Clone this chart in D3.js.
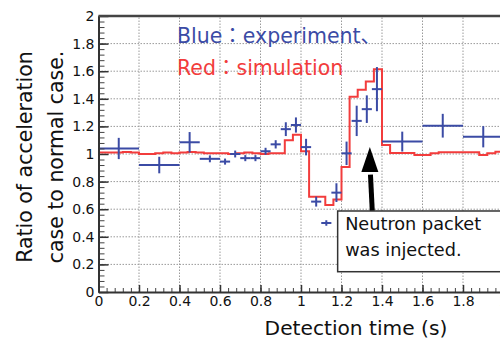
<!DOCTYPE html>
<html lang="en">
<head>
<meta charset="UTF-8">
<title>Ratio of acceleration case to normal case</title>
<script src="https://d3js.org/d3.v7.min.js"></script>
<style>
  body { margin: 0; background: #fff; }
  svg { display: block; font-family: "DejaVu Sans", "Noto Sans CJK JP", sans-serif; }
</style>
</head>
<body>
<div id="chart"></div>
<script>
// experiment (blue crosses): centre time, ratio, half bin width, error
const expTime = [0.1, 0.3, 0.45, 0.55, 0.625, 0.675, 0.725, 0.775, 0.825, 0.875, 0.925, 0.975,
                 1.025, 1.075, 1.125, 1.175, 1.225, 1.275, 1.325, 1.375, 1.5, 1.7, 1.9];
const expRatio = [1.04, 0.92, 1.085, 0.965, 0.945, 1.0, 0.97, 0.97, 1.02, 1.07, 1.18, 1.21,
                  1.05, 0.655, 0.50, 0.72, 1.005, 1.24, 1.325, 1.47, 1.09, 1.205, 1.125];
const expHalfWidth = [0.1, 0.1, 0.05, 0.05, 0.025, 0.025, 0.025, 0.025, 0.025, 0.025, 0.025, 0.025,
                      0.025, 0.025, 0.025, 0.025, 0.025, 0.025, 0.025, 0.025, 0.1, 0.1, 0.1];
const expErr = [0.077, 0.06, 0.074, 0.025, 0.022, 0.025, 0.022, 0.022, 0.025, 0.03, 0.05, 0.055,
                0.06, 0.036, 0.02, 0.068, 0.085, 0.11, 0.10, 0.16, 0.072, 0.086, 0.077];

// simulation (red histogram), bins of 0.04 s from 0 to 2
const simBinWidth = 0.04;
const simRatio = [1.01, 1.01, 1.01, 1.015, 1.01, 1.0, 1.0, 1.005, 1.01, 1.005,
                  1.01, 1.015, 1.01, 1.005, 1.005, 1.005, 1.0, 1.005, 1.01, 1.005,
                  1.0, 1.005, 1.005, 1.10, 1.14, 1.02, 0.69, 0.69, 0.63, 0.67,
                  0.905, 1.415, 1.465, 1.525, 1.615, 1.065, 1.008, 1.008, 1.008, 0.993,
                  0.993, 1.005, 1.012, 1.012, 1.012, 1.012, 1.012, 0.993, 1.005, 1.017];

const xTicks = [0, 0.2, 0.4, 0.6, 0.8, 1, 1.2, 1.4, 1.6, 1.8, 2];
const yTicks = [0, 0.2, 0.4, 0.6, 0.8, 1, 1.2, 1.4, 1.6, 1.8, 2];

const width = 500, height = 341;
const margin = { top: 16, left: 98.5, bottom: 49 };
const plotW = 405;

const blue = "#3b4ba5";
const red = "#f23c3c";

const svg = d3.select("#chart").append("svg")
    .attr("width", width)
    .attr("height", height);

const x = d3.scaleLinear().domain([0, 2]).range([margin.left, margin.left + plotW]);
const y = d3.scaleLinear().domain([0, 2]).range([height - margin.bottom, margin.top]);

// dotted grid
svg.append("g").selectAll("line")
    .data(xTicks.slice(1))
    .join("line")
    .attr("x1", d => x(d)).attr("x2", d => x(d))
    .attr("y1", y(0)).attr("y2", y(2))
    .attr("stroke", "#9a9a9a").attr("stroke-width", 1).attr("stroke-dasharray", "1.5,1.5");
svg.append("g").selectAll("line")
    .data(yTicks.slice(1))
    .join("line")
    .attr("x1", x(0)).attr("x2", x(2))
    .attr("y1", d => y(d)).attr("y2", d => y(d))
    .attr("stroke", "#9a9a9a").attr("stroke-width", 1).attr("stroke-dasharray", "1.5,1.5");

// simulation step line
const simPoints = simRatio.map((v, i) => [i * simBinWidth, v]);
simPoints.push([simRatio.length * simBinWidth, simRatio[simRatio.length - 1]]);
svg.append("path")
    .datum(simPoints)
    .attr("fill", "none")
    .attr("stroke", red)
    .attr("stroke-width", 2)
    .attr("d", d3.line().x(d => x(d[0])).y(d => y(d[1])).curve(d3.curveStepAfter));

// experiment crosses
const exp = expTime.map((t, i) => ({ t, v: expRatio[i], w: expHalfWidth[i], e: expErr[i] }));
const pts = svg.append("g").attr("stroke", blue).attr("stroke-width", 2);
pts.selectAll(".h").data(exp).join("line").attr("class", "h")
    .attr("x1", d => x(d.t - d.w)).attr("x2", d => x(d.t + d.w))
    .attr("y1", d => y(d.v)).attr("y2", d => y(d.v));
pts.selectAll(".v").data(exp).join("line").attr("class", "v")
    .attr("x1", d => x(d.t)).attr("x2", d => x(d.t))
    .attr("y1", d => y(d.v - d.e)).attr("y2", d => y(d.v + d.e));

// axes with inward ticks
const minor = d3.range(0, 2.0001, 0.04);
svg.append("g")
    .attr("transform", `translate(${x(0)},0)`)
    .call(d3.axisLeft(y).tickValues(minor).tickSizeInner(-6).tickSizeOuter(0).tickFormat(""))
    .call(g => g.select(".domain").remove())
    .call(g => g.selectAll("line").attr("stroke", "#444"));
svg.append("g")
    .attr("transform", `translate(0,${y(0)})`)
    .call(d3.axisBottom(x).tickValues(minor).tickSizeInner(-4).tickSizeOuter(0).tickFormat(""))
    .call(g => g.select(".domain").remove())
    .call(g => g.selectAll("line").attr("stroke", "#444"));

const yAxis = svg.append("g")
    .attr("transform", `translate(${x(0)},0)`)
    .call(d3.axisLeft(y).tickValues(yTicks).tickSizeInner(-10).tickSizeOuter(0).tickPadding(4)
        .tickFormat(d3.format("~g")));
const xAxis = svg.append("g")
    .attr("transform", `translate(0,${y(0)})`)
    .call(d3.axisBottom(x).tickValues(xTicks).tickSizeInner(-7).tickSizeOuter(0).tickPadding(4)
        .tickFormat(d3.format("~g")));
[yAxis, xAxis].forEach(a => {
    a.select(".domain").attr("stroke", "#333").attr("stroke-width", 2);
    a.selectAll(".tick line").attr("stroke", "#333").attr("stroke-width", 1.5);
    a.selectAll("text").attr("font-size", 14).attr("fill", "#111")
        .attr("font-family", "'DejaVu Sans', sans-serif");
});

// top frame
svg.append("line")
    .attr("x1", x(0)).attr("x2", x(2))
    .attr("y1", y(2)).attr("y2", y(2))
    .attr("stroke", "#444").attr("stroke-width", 2.5);

// axis titles
svg.append("text")
    .attr("x", 356).attr("y", 335)
    .attr("text-anchor", "middle")
    .attr("font-size", 20.2).attr("fill", "#111")
    .text("Detection time (s)");
const yTitle = svg.append("text")
    .attr("transform", "translate(32,157) rotate(-90)")
    .attr("text-anchor", "middle")
    .attr("font-size", 20.5).attr("fill", "#111");
yTitle.append("tspan").attr("x", 0).attr("y", 0).text("Ratio of acceleration");
yTitle.append("tspan").attr("x", 0).attr("y", 31).text("case to normal case.");

// legend text
svg.append("text").attr("x", 177).attr("y", 43)
    .attr("font-size", 20.5).attr("fill", blue)
    .text("Blue：experiment、");
svg.append("text").attr("x", 177).attr("y", 75)
    .attr("font-size", 20.5).attr("fill", red)
    .text("Red：simulation");

// annotation: arrow and box
const arrowTip = [1.34, 1.05];
const arrowBase = [1.352, 0.587];
const headY = 0.87;
svg.append("line")
    .attr("x1", x(arrowBase[0])).attr("y1", y(arrowBase[1]))
    .attr("x2", x(1.343)).attr("y2", y(headY - 0.02))
    .attr("stroke", "#000").attr("stroke-width", 5);
svg.append("path")
    .attr("d", `M${x(arrowTip[0])},${y(arrowTip[1])} L${x(arrowTip[0]) + 8.5},${y(headY)} L${x(arrowTip[0]) - 8.5},${y(headY)} Z`)
    .attr("fill", "#000");

const box = svg.append("g");
box.append("rect")
    .attr("x", x(1.181)).attr("y", y(0.587))
    .attr("width", 200).attr("height", y(0.147) - y(0.587))
    .attr("fill", "#fff").attr("stroke", "#333").attr("stroke-width", 1.5);
box.append("text").attr("x", x(1.181) + 7.5).attr("y", y(0.587) + 19)
    .attr("font-size", 17.7).attr("fill", "#111").text("Neutron packet");
box.append("text").attr("x", x(1.181) + 7.5).attr("y", y(0.587) + 45.5)
    .attr("font-size", 17.7).attr("fill", "#111").text("was injected.");
</script>
</body>
</html>
